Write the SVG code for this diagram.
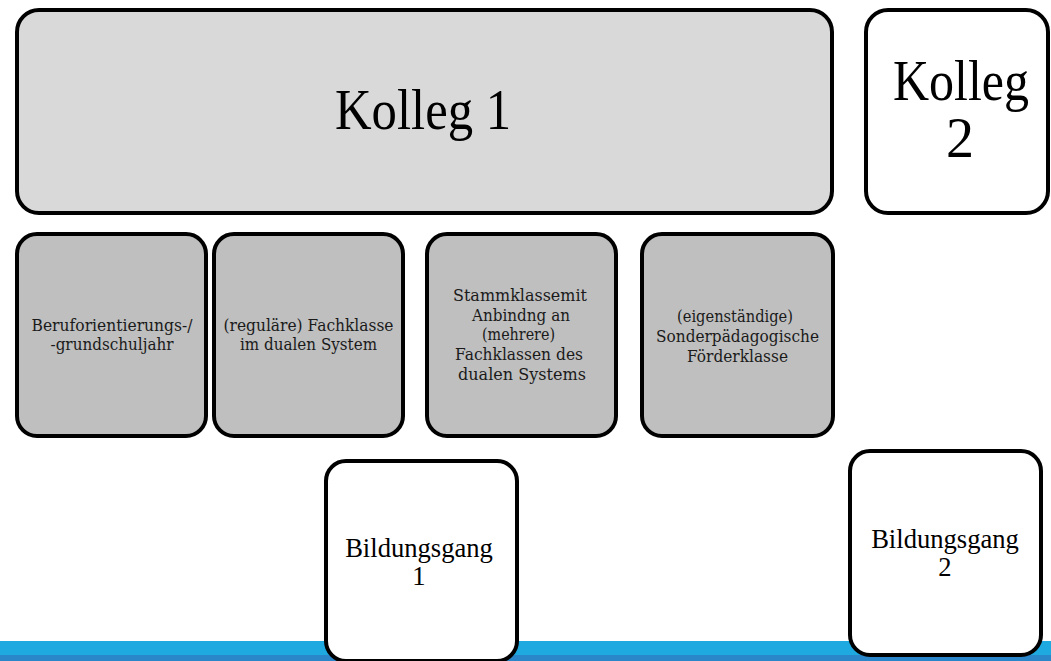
<svg xmlns="http://www.w3.org/2000/svg" width="1051" height="661" viewBox="0 0 1051 661">
<style>
.box{stroke:#000;stroke-width:4}
.k{fill:#D9D9D9}
.g{fill:#BFBFBF}
.w{fill:#FFFFFF}
.big{font-family:'Liberation Serif','DejaVu Serif',serif;font-size:56px;fill:#000}
.mid{font-family:'Liberation Serif','DejaVu Serif',serif;font-size:26.6px;fill:#000;text-anchor:middle}
.sm{font-family:'DejaVu Serif','Liberation Serif',serif;font-size:16.5px;fill:#1a1a1a;text-anchor:middle}
</style>
<rect x="0" y="0" width="1051" height="661" fill="#FFFFFF"/>
<g id="band">
<rect x="0" y="641" width="1051" height="14" fill="#1FA9E1"/>
<rect x="0" y="655" width="1051" height="6" fill="#2A86C8"/>
</g>
<g id="connectors"></g>
<g id="kolleg1">
<rect class="box k" x="17" y="10" width="815" height="203" rx="22"/>
<text class="big" x="335" y="129" textLength="176" lengthAdjust="spacingAndGlyphs">Kolleg 1</text>
</g>
<g id="kolleg2">
<rect class="box w" x="866" y="10" width="182" height="203" rx="22"/>
<text class="big" x="893" y="100" textLength="136" lengthAdjust="spacingAndGlyphs">Kolleg</text>
<text class="big" x="960" y="157" text-anchor="middle">2</text>
</g>
<g id="berufsorientierung">
<rect class="box g" x="17" y="234" width="189" height="202" rx="20"/>
<text class="sm" x="112" y="331" textLength="161" lengthAdjust="spacingAndGlyphs">Beruforientierungs-/</text>
<text class="sm" x="112" y="350" textLength="123" lengthAdjust="spacingAndGlyphs">-grundschuljahr</text>
</g>
<g id="fachklasse">
<rect class="box g" x="214" y="234" width="189" height="202" rx="20"/>
<text class="sm" x="308.5" y="331" textLength="170" lengthAdjust="spacingAndGlyphs">(reguläre) Fachklasse</text>
<text class="sm" x="308.5" y="350" textLength="137" lengthAdjust="spacingAndGlyphs">im dualen System</text>
</g>
<g id="stammklasse">
<rect class="box g" x="427" y="234" width="189" height="202" rx="20"/>
<text class="sm" x="520" y="301" textLength="134" lengthAdjust="spacingAndGlyphs">Stammklassemit</text>
<text class="sm" x="521" y="321" textLength="98" lengthAdjust="spacingAndGlyphs">Anbindng an</text>
<text class="sm" x="518.5" y="340" textLength="73" lengthAdjust="spacingAndGlyphs">(mehrere)</text>
<text class="sm" x="519" y="360" textLength="128" lengthAdjust="spacingAndGlyphs">Fachklassen des</text>
<text class="sm" x="522" y="380" textLength="128" lengthAdjust="spacingAndGlyphs">dualen Systems</text>
</g>
<g id="foerderklasse">
<rect class="box g" x="642" y="234" width="191" height="202" rx="20"/>
<text class="sm" x="735" y="322" textLength="116" lengthAdjust="spacingAndGlyphs">(eigenständige)</text>
<text class="sm" x="737.5" y="342" textLength="163" lengthAdjust="spacingAndGlyphs">Sonderpädagogische</text>
<text class="sm" x="737.5" y="362" textLength="101" lengthAdjust="spacingAndGlyphs">Förderklasse</text>
</g>
<g id="bildungsgang1">
<rect class="box w" x="326" y="461" width="191" height="200" rx="20"/>
<text class="mid" x="419" y="557">Bildungsgang</text>
<text class="mid" x="419" y="585">1</text>
</g>
<g id="bildungsgang2">
<rect class="box w" x="850" y="451" width="191" height="204" rx="20"/>
<text class="mid" x="945" y="548">Bildungsgang</text>
<text class="mid" x="945" y="576">2</text>
</g>
</svg>
